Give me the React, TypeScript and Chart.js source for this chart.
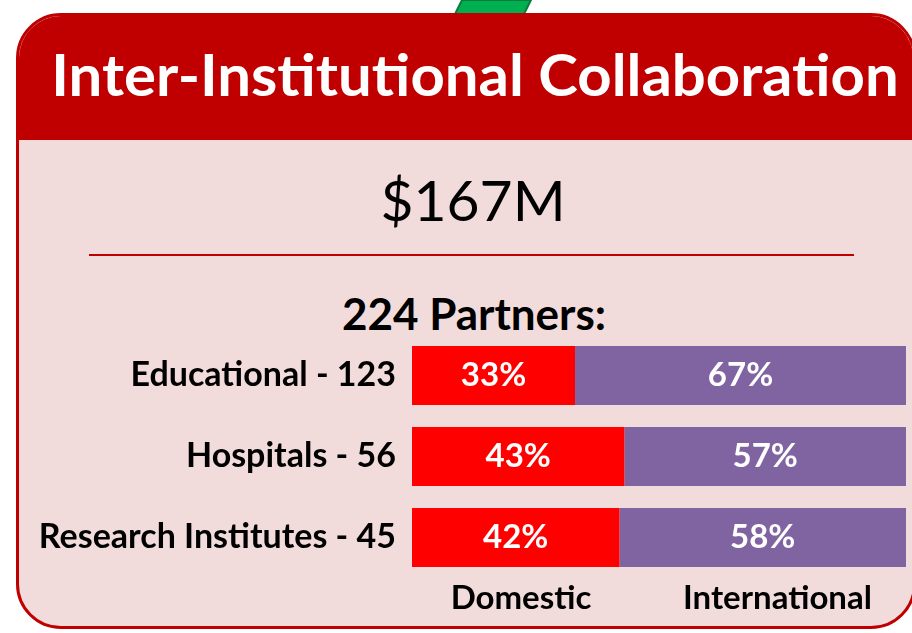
import React, { useEffect, useRef } from "react";
import { Chart, registerables } from "chart.js";

Chart.register(...registerables);

const titleText = "Inter-Institutional Collaboration";
const totalText = "$167M";
const partnersText = "224 Partners:";
const categories = ["Educational - 123", "Hospitals - 56", "Research Institutes - 45"];
const seriesNames = ["Domestic", "International"];
const domestic = [33, 43, 42];
const international = [67, 57, 58];
const seriesColors = ["#FF0000", "#8064A2"];

const FONT = "Lato, 'Open Sans', sans-serif";

const labelPlugin = {
  id: "barLabels",
  afterDatasetsDraw(chart: any) {
    const ctx = chart.ctx;
    ctx.save();
    ctx.font = `bold 33px ${FONT}`;
    ctx.fillStyle = "#FFFFFF";
    ctx.textAlign = "center";
    ctx.textBaseline = "middle";
    chart.data.datasets.forEach((ds: any, di: number) => {
      const meta = chart.getDatasetMeta(di);
      meta.data.forEach((el: any, i: number) => {
        const p = el.getProps(["x", "base", "y"], true);
        ctx.fillText(ds.data[i] + "%", (p.x + p.base) / 2, p.y);
      });
    });
    ctx.restore();
  },
};

function BarChart() {
  const ref = useRef<HTMLCanvasElement | null>(null);
  useEffect(() => {
    let chart: Chart | null = null;
    let cancelled = false;
    const make = () => {
      if (cancelled || !ref.current) return;
      chart = new Chart(ref.current, {
        type: "bar",
        data: {
          labels: categories,
          datasets: [
            { label: seriesNames[0], data: domestic, backgroundColor: seriesColors[0], borderWidth: 0 },
            { label: seriesNames[1], data: international, backgroundColor: seriesColors[1], borderWidth: 0 },
          ],
        },
        options: {
          indexAxis: "y",
          responsive: false,
          animation: false,
          events: [],
          layout: { padding: { left: 0, right: 6, top: 5, bottom: 12 } },
          datasets: { bar: { categoryPercentage: 1, barPercentage: 0.728 } },
          plugins: { legend: { display: false }, tooltip: { enabled: false } },
          scales: {
            x: { stacked: true, min: 0, max: 100, display: false },
            y: {
              stacked: true,
              grid: { display: false, drawTicks: false },
              border: { display: false },
              ticks: {
                padding: 16,
                color: "#000000",
                font: { family: FONT, size: 34, weight: "bold" },
              },
              afterFit: (s: any) => {
                s.width = 412;
                s.paddingTop = 0;
                s.paddingBottom = 0;
              },
            },
          },
        } as any,
        plugins: [labelPlugin],
      });
    };
    const fonts = (document as any).fonts;
    if (fonts && fonts.load) {
      Promise.all([fonts.load(`bold 32px Lato`), fonts.load(`32px Lato`)]).then(make, make);
    } else make();
    return () => {
      cancelled = true;
      if (chart) chart.destroy();
    };
  }, []);
  return <canvas ref={ref} width={912} height={260} style={{ display: "block" }} />;
}

const abs = (o: React.CSSProperties): React.CSSProperties => ({ position: "absolute", ...o });

export default function App() {
  return (
    <div style={abs({ left: 0, top: 0, width: 912, height: 633, overflow: "hidden", background: "#FFFFFF", fontFamily: FONT })}>
      <svg width={912} height={40} style={abs({ left: 0, top: 0 })}>
        <polygon points="451,22 520,22 531,0 462,0" fill="#00B050" stroke="#0B7A3B" strokeWidth={2} />
      </svg>
      <div
        style={abs({
          left: 16,
          top: 13,
          width: 900,
          height: 616,
          boxSizing: "border-box",
          border: "3px solid #C00000",
          borderRadius: 45,
          background: "#F2DCDB",
          overflow: "hidden",
        })}
      >
        <div style={{ height: 124, background: "#C00000" }} />
      </div>
      <div style={abs({ left: 474.5, top: 45, transform: "translateX(-50%) scaleX(1.032)", whiteSpace: "nowrap", color: "#FFFFFF", fontWeight: 700, fontSize: 58, lineHeight: 1 })}>
        {titleText}
      </div>
      <div style={abs({ left: 473, top: 171, transform: "translateX(-50%)", whiteSpace: "nowrap", color: "#000000", fontWeight: 400, fontSize: 57, lineHeight: 1 })}>
        {totalText}
      </div>
      <div style={abs({ left: 89, top: 254, width: 765, height: 2, background: "#C00000" })} />
      <div style={abs({ left: 474, top: 291, transform: "translateX(-50%)", whiteSpace: "nowrap", color: "#000000", fontWeight: 700, fontSize: 44, lineHeight: 1 })}>
        {partnersText}
      </div>
      <div style={abs({ left: 0, top: 330, width: 912, height: 260 })}>
        <BarChart />
      </div>
      <div style={abs({ left: 521, top: 580, transform: "translateX(-50%)", whiteSpace: "nowrap", color: "#000000", fontWeight: 700, fontSize: 33, lineHeight: 1 })}>
        {seriesNames[0]}
      </div>
      <div style={abs({ left: 777.5, top: 580, transform: "translateX(-50%)", whiteSpace: "nowrap", color: "#000000", fontWeight: 700, fontSize: 33, lineHeight: 1 })}>
        {seriesNames[1]}
      </div>
    </div>
  );
}
